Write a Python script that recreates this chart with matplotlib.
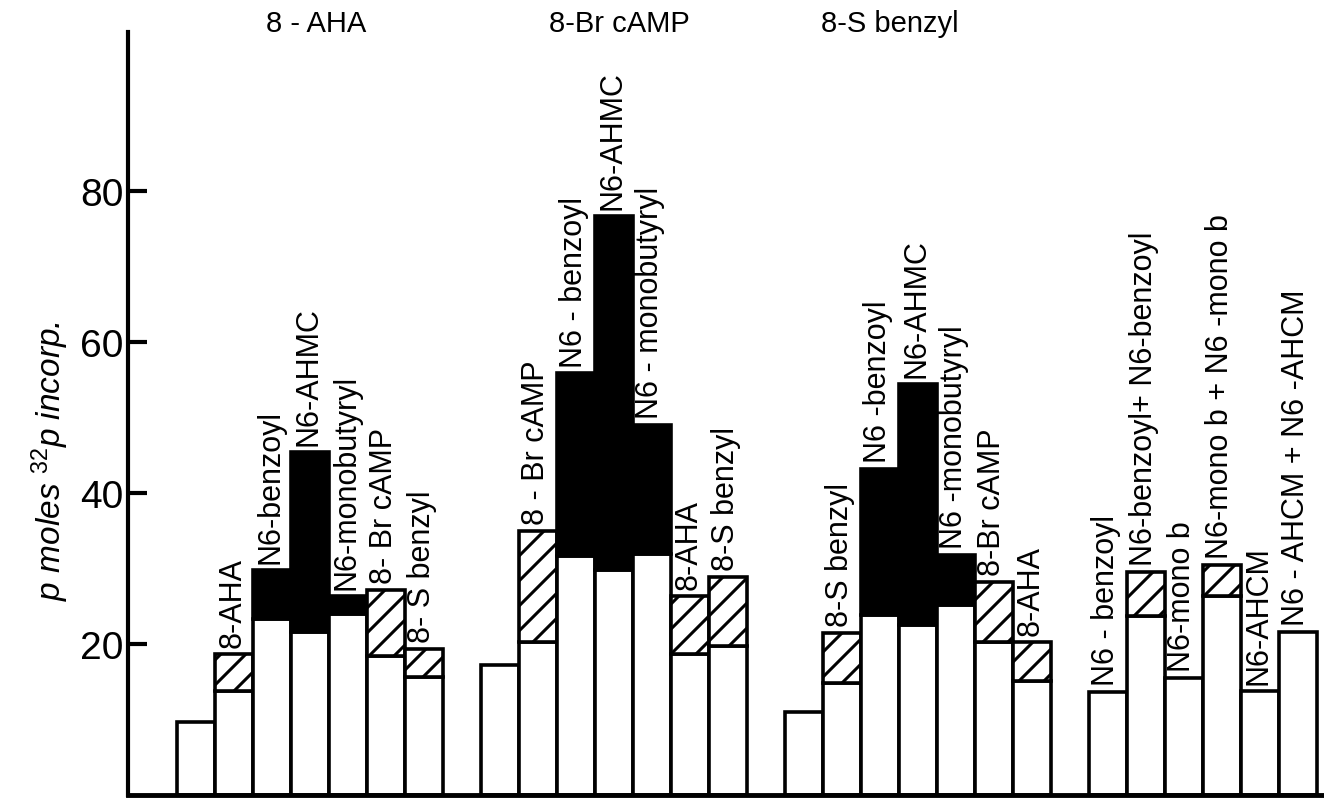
import matplotlib
matplotlib.use("Agg")
import matplotlib.pyplot as plt
import matplotlib.transforms as mtransforms
from matplotlib.backend_bases import GraphicsContextBase

plt.rcParams['font.family'] = ['Liberation Sans', 'DejaVu Sans']
plt.rcParams['mathtext.fontset'] = 'custom'
plt.rcParams['mathtext.rm'] = 'Liberation Sans'
plt.rcParams['mathtext.it'] = 'Liberation Sans:italic'
plt.rcParams['hatch.linewidth'] = 2.2

# rayado algo mas denso que el de por defecto
_hatch_path = GraphicsContextBase.get_hatch_path
GraphicsContextBase.get_hatch_path = lambda self, density=8.0: _hatch_path(self, density)

# titulos de cada grupo
group_titles = ["8 - AHA", "8-Br cAMP", "8-S benzyl"]

# por grupo: etiqueta, parte blanca, altura total, tipo de la parte superior (h = rayado, b = negro)
g1_labels = ["", "8-AHA", "N6-benzoyl", "N6-AHMC", "N6-monobutyryl", "8- Br cAMP", "8- S benzyl"]
g1_base = [9.7, 13.8, 23.3, 21.6, 24.0, 18.4, 15.6]
g1_total = [9.7, 18.7, 29.8, 45.4, 26.4, 27.2, 19.3]
g1_kind = ["", "h", "b", "b", "b", "h", "h"]

g2_labels = ["", "8 - Br cAMP", "N6 - benzoyl", "N6-AHMC", "N6 - monobutyryl", "8-AHA", "8-S benzyl"]
g2_base = [17.2, 20.3, 31.7, 29.8, 31.9, 18.7, 19.7]
g2_total = [17.2, 35.0, 55.8, 76.6, 49.0, 26.4, 28.9]
g2_kind = ["", "h", "b", "b", "b", "h", "h"]

g3_labels = ["", "8-S benzyl", "N6 -benzoyl", "N6-AHMC", "N6 -monobutyryl", "8-Br cAMP", "8-AHA"]
g3_base = [11.0, 14.8, 23.8, 22.5, 25.2, 20.3, 15.1]
g3_total = [11.0, 21.5, 43.2, 54.4, 31.8, 28.2, 20.3]
g3_kind = ["", "h", "b", "b", "b", "h", "h"]

g4_labels = ["N6 - benzoyl", "N6-benzoyl+ N6-benzoyl", "N6-mono b", "N6-mono b + N6 -mono b",
             "N6-AHCM", "N6 - AHCM + N6 -AHCM"]
g4_base = [13.6, 23.7, 15.5, 26.4, 13.8, 21.6]
g4_total = [13.6, 29.5, 15.5, 30.5, 13.8, 21.6]
g4_kind = ["", "h", "", "h", "", ""]

groups = [
    (g1_labels, g1_base, g1_total, g1_kind),
    (g2_labels, g2_base, g2_total, g2_kind),
    (g3_labels, g3_base, g3_total, g3_kind),
    (g4_labels, g4_base, g4_total, g4_kind),
]

yticks = [20, 40, 60, 80]

fig = plt.figure(figsize=(13.24, 8.03), dpi=100)
ax = fig.add_axes([128 / 1324, 7 / 803, 1 - 128 / 1324, 763 / 803])

lw = 2.6
for g, (labels, base, total, kind) in enumerate(groups):
    start = g * 8
    for j in range(len(base)):
        x = start + j
        ax.bar(x, base[j], width=1, align='edge', facecolor='white', edgecolor='black', linewidth=lw)
        if kind[j] == "b":
            ax.bar(x, total[j] - base[j], bottom=base[j], width=1, align='edge',
                   facecolor='black', edgecolor='black', linewidth=lw)
        elif kind[j] == "h":
            ax.bar(x, total[j] - base[j], bottom=base[j], width=1, align='edge',
                   facecolor='white', edgecolor='black', hatch='/', linewidth=lw)
        if labels[j]:
            ax.annotate(labels[j], xy=(x + 0.45, total[j]), xytext=(0, 5), textcoords='offset points',
                        rotation=90, ha='center', va='bottom', fontsize=22)

ax.set_xlim(-1.29, 30.18)
ax.set_ylim(0, 101)

for s in ['top', 'right']:
    ax.spines[s].set_visible(False)
ax.spines['left'].set_linewidth(3)
ax.spines['bottom'].set_linewidth(3.5)

ax.set_xticks([])
ax.set_yticks(yticks)
ax.tick_params(axis='y', direction='in', length=14, width=3, pad=3, labelsize=28)
ax.patch.set_alpha(0)

# titulos arriba de cada grupo
trans = mtransforms.blended_transform_factory(ax.transData, fig.transFigure)
title_x = [3.66, 11.63, 18.76]
for tx, t in zip(title_x, group_titles):
    ax.text(tx, 1 - 24 / 803, t, transform=trans, ha='center', va='center', fontsize=21, clip_on=False)

fig.text(50 / 1324, 1 - 461 / 803, r"p moles $^{32}$p incorp.", rotation=90, ha='center', va='center',
         fontsize=24, style='italic')

plt.savefig("out.png", dpi=100)
plt.close()
